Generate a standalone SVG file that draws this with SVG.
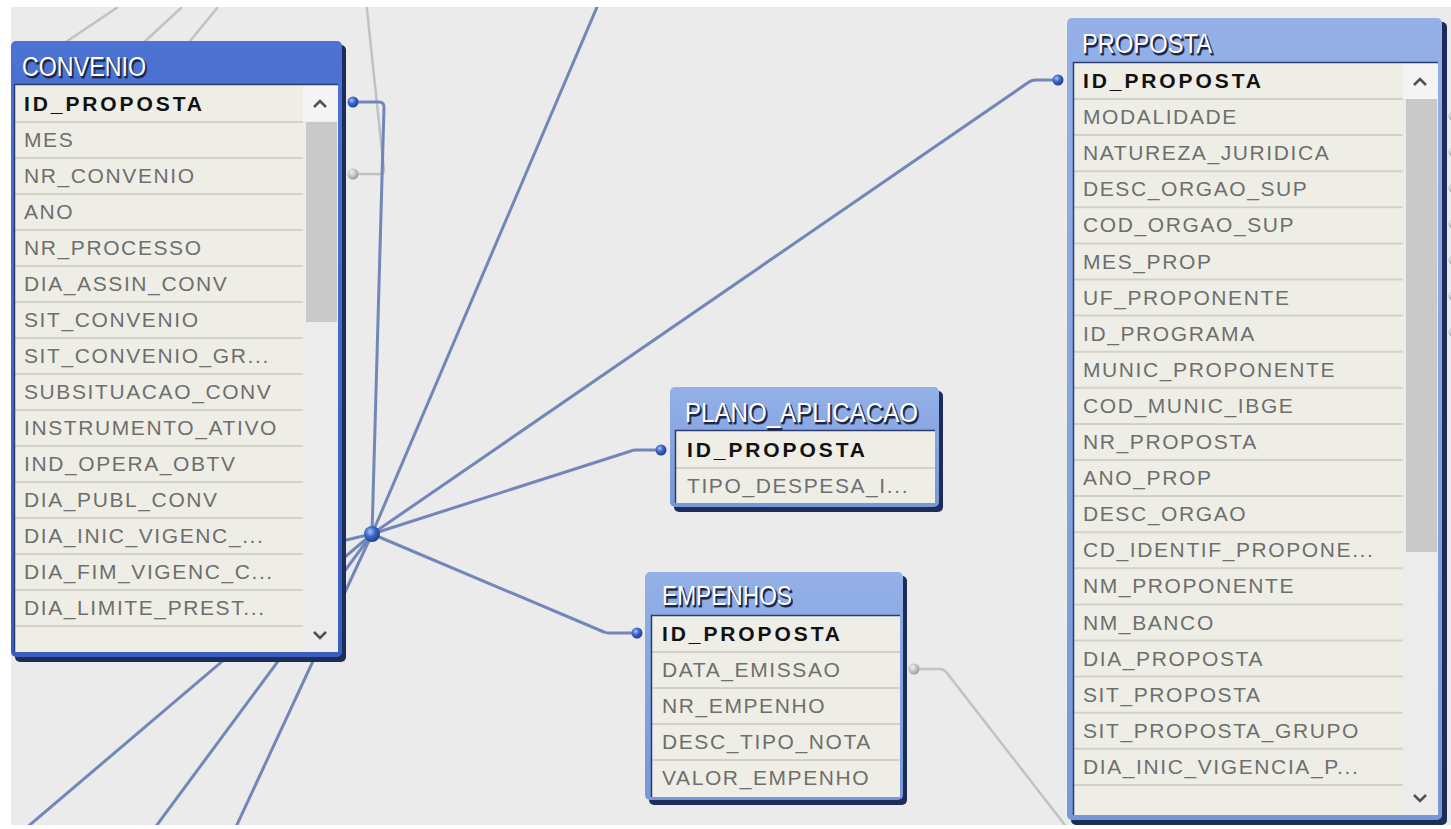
<svg xmlns="http://www.w3.org/2000/svg" width="1451" height="829" viewBox="0 0 1451 829">
<style>
.bg{fill:#ebebeb}
.shadow{fill:#1d2c58}
.body{fill:#efeee6}
.inner{fill:none;stroke:#2b3d70;stroke-width:1.5}
.sep{stroke:#d2d2ca;stroke-width:2}
.sb{fill:#ececec}
.sbtop{fill:#f4f4f4}
.thumb{fill:#c9c9c9}
.chev{fill:none;stroke:#505050;stroke-width:2.5}
.t{font-family:"Liberation Sans",Arial,sans-serif;font-size:21px;fill:#6e6e6e;letter-spacing:1.6px}
.k{font-weight:bold;fill:#111;letter-spacing:2.9px}
.title{font-family:"Liberation Sans",Arial,sans-serif;font-size:27px;fill:#ffffff}
.tsh{fill:#1c2648;stroke:#1c2648;stroke-width:1.2;stroke-opacity:0.8}
.blue{stroke:#6b81b6;stroke-width:3;fill:none;stroke-linejoin:round;stroke-opacity:0.95}
.gray{stroke:#c2c2c2;stroke-width:2.5;fill:none;stroke-linejoin:round}
</style>
<defs>
<linearGradient id="hSel" x1="0" y1="0" x2="0" y2="1"><stop offset="0" stop-color="#4d73d2"/><stop offset="1" stop-color="#3a5ec0"/></linearGradient>
<linearGradient id="hUn" x1="0" y1="0" x2="0" y2="1"><stop offset="0" stop-color="#94b0e7"/><stop offset="1" stop-color="#7797d6"/></linearGradient>
<radialGradient id="ballB" cx="0.38" cy="0.35" r="0.7"><stop offset="0" stop-color="#a9c1f5"/><stop offset="0.45" stop-color="#3d66c8"/><stop offset="1" stop-color="#1c3a88"/></radialGradient>
<radialGradient id="ballG" cx="0.38" cy="0.35" r="0.7"><stop offset="0" stop-color="#f2f2f2"/><stop offset="0.5" stop-color="#c4c4c4"/><stop offset="1" stop-color="#959595"/></radialGradient>
<clipPath id="canvas"><rect x="11" y="7" width="1440" height="818"/></clipPath>
</defs>
<rect x="0" y="0" width="1451" height="829" fill="#ffffff"/>
<rect class="bg" x="11" y="7" width="1440" height="818"/>

<g id="connectors" clip-path="url(#canvas)">
<path class="gray" d="M118,7 L60,46"/>
<path class="gray" d="M182,7 L140,46"/>
<path class="gray" d="M218,7 L186,46"/>
<path class="gray" d="M353,174 H380 Q384,174 384,170 L366,0"/>
<path class="gray" d="M914,669 H940 Q944,669 947,673 L1068,829"/>
<path class="blue" d="M353,102 H379 Q384,102 384,107 L372,534"/>
<path class="blue" d="M372,534 L600,0"/>
<path class="blue" d="M372,534 L1029,82 Q1032,80 1036,80 H1058"/>
<path class="blue" d="M372,534 L631,451 Q633,450 636,450 H661"/>
<path class="blue" d="M372,534 L604,632 Q606,633 609,633 H637"/>
<path class="blue" d="M372,534 L25,829"/>
<path class="blue" d="M372,534 L154,829"/>
<path class="blue" d="M372,534 L235,829"/>
<path class="blue" d="M372,534 L0,620"/>
<g fill="url(#ballG)">
<circle cx="1453" cy="116" r="4.5"/><circle cx="1453" cy="152" r="4.5"/><circle cx="1453" cy="188" r="4.5"/><circle cx="1453" cy="224" r="4.5"/><circle cx="1453" cy="260" r="4.5"/><circle cx="1453" cy="296" r="4.5"/><circle cx="1453" cy="332" r="4.5"/>
</g>
</g>

<g id="CONVENIO">
<rect class="shadow" x="15" y="45" width="331" height="617" rx="5"/>
<rect x="11" y="41" width="331" height="616" rx="5" fill="url(#hSel)"/>
<rect class="body" x="14" y="84" width="324" height="568"/>
<rect class="sb" x="303" y="84" width="35" height="568"/>
<rect class="sbtop" x="303" y="84" width="35" height="37"/>
<rect class="thumb" x="306" y="122" width="31" height="200"/>
<path class="chev" d="M314,107 l6,-6 l6,6"/>
<path class="chev" d="M314,632 l6,6 l6,-6"/>
<g>
<line class="sep" x1="14" x2="303" y1="122" y2="122"/><line class="sep" x1="14" x2="303" y1="158" y2="158"/><line class="sep" x1="14" x2="303" y1="194" y2="194"/><line class="sep" x1="14" x2="303" y1="230" y2="230"/><line class="sep" x1="14" x2="303" y1="266" y2="266"/><line class="sep" x1="14" x2="303" y1="302" y2="302"/><line class="sep" x1="14" x2="303" y1="338" y2="338"/><line class="sep" x1="14" x2="303" y1="374" y2="374"/><line class="sep" x1="14" x2="303" y1="410" y2="410"/><line class="sep" x1="14" x2="303" y1="446" y2="446"/><line class="sep" x1="14" x2="303" y1="482" y2="482"/><line class="sep" x1="14" x2="303" y1="518" y2="518"/><line class="sep" x1="14" x2="303" y1="554" y2="554"/><line class="sep" x1="14" x2="303" y1="590" y2="590"/><line class="sep" x1="14" x2="303" y1="626" y2="626"/>
</g>
<path class="inner" d="M14.5,652 V84.5 H338"/>
<text class="title tsh" x="23.5" y="77.5" textLength="124" lengthAdjust="spacingAndGlyphs">CONVENIO</text>
<text class="title" x="22" y="76" textLength="124" lengthAdjust="spacingAndGlyphs">CONVENIO</text>
<text class="t k" x="24" y="111">ID_PROPOSTA</text>
<text class="t" x="24" y="147">MES</text>
<text class="t" x="24" y="183">NR_CONVENIO</text>
<text class="t" x="24" y="219">ANO</text>
<text class="t" x="24" y="255">NR_PROCESSO</text>
<text class="t" x="24" y="291">DIA_ASSIN_CONV</text>
<text class="t" x="24" y="327">SIT_CONVENIO</text>
<text class="t" x="24" y="363">SIT_CONVENIO_GR...</text>
<text class="t" x="24" y="399">SUBSITUACAO_CONV</text>
<text class="t" x="24" y="435">INSTRUMENTO_ATIVO</text>
<text class="t" x="24" y="471">IND_OPERA_OBTV</text>
<text class="t" x="24" y="507">DIA_PUBL_CONV</text>
<text class="t" x="24" y="543">DIA_INIC_VIGENC_...</text>
<text class="t" x="24" y="579">DIA_FIM_VIGENC_C...</text>
<text class="t" x="24" y="615">DIA_LIMITE_PREST...</text>
</g>

<g id="PLANO_APLICACAO">
<rect class="shadow" x="674" y="391" width="269" height="121" rx="5"/>
<rect x="670" y="387" width="269" height="120" rx="5" fill="url(#hUn)"/>
<rect class="body" x="675" y="430" width="260" height="73"/>
<line class="sep" x1="675" x2="935" y1="468" y2="468"/>
<path class="inner" d="M675.5,503 V430.5 H935"/>
<text class="title tsh" x="686.5" y="423.5" textLength="233" lengthAdjust="spacingAndGlyphs">PLANO_APLICACAO</text>
<text class="title" x="685" y="422" textLength="233" lengthAdjust="spacingAndGlyphs">PLANO_APLICACAO</text>
<text class="t k" x="687" y="457">ID_PROPOSTA</text>
<text class="t" x="687" y="493">TIPO_DESPESA_I...</text>
</g>

<g id="EMPENHOS">
<rect class="shadow" x="649" y="576" width="258" height="229" rx="5"/>
<rect x="645" y="572" width="258" height="228" rx="5" fill="url(#hUn)"/>
<rect class="body" x="651" y="615" width="249" height="182"/>
<line class="sep" x1="651" x2="900" y1="652" y2="652"/><line class="sep" x1="651" x2="900" y1="688" y2="688"/><line class="sep" x1="651" x2="900" y1="724" y2="724"/><line class="sep" x1="651" x2="900" y1="760" y2="760"/>
<path class="inner" d="M651.5,797 V615.5 H900"/>
<text class="title tsh" x="663.5" y="606.5" textLength="130" lengthAdjust="spacingAndGlyphs">EMPENHOS</text>
<text class="title" x="662" y="605" textLength="130" lengthAdjust="spacingAndGlyphs">EMPENHOS</text>
<text class="t k" x="662" y="641">ID_PROPOSTA</text>
<text class="t" x="662" y="677">DATA_EMISSAO</text>
<text class="t" x="662" y="713">NR_EMPENHO</text>
<text class="t" x="662" y="749">DESC_TIPO_NOTA</text>
<text class="t" x="662" y="785">VALOR_EMPENHO</text>
</g>

<g id="PROPOSTA">
<rect class="shadow" x="1071" y="22" width="376" height="803" rx="5"/>
<rect x="1067" y="18" width="375" height="802" rx="5" fill="url(#hUn)"/>
<rect class="body" x="1073" y="62" width="365" height="753"/>
<rect class="sb" x="1403" y="62" width="35" height="753"/>
<rect class="sbtop" x="1403" y="62" width="35" height="37"/>
<rect class="thumb" x="1406" y="99" width="31" height="453"/>
<path class="chev" d="M1414,85 l6,-6 l6,6"/>
<path class="chev" d="M1414,795 l6,6 l6,-6"/>
<g>
<line class="sep" x1="1073" x2="1403" y1="99" y2="99"/><line class="sep" x1="1073" x2="1403" y1="135.1" y2="135.1"/><line class="sep" x1="1073" x2="1403" y1="171.2" y2="171.2"/><line class="sep" x1="1073" x2="1403" y1="207.3" y2="207.3"/><line class="sep" x1="1073" x2="1403" y1="243.4" y2="243.4"/><line class="sep" x1="1073" x2="1403" y1="279.5" y2="279.5"/><line class="sep" x1="1073" x2="1403" y1="315.6" y2="315.6"/><line class="sep" x1="1073" x2="1403" y1="351.7" y2="351.7"/><line class="sep" x1="1073" x2="1403" y1="387.8" y2="387.8"/><line class="sep" x1="1073" x2="1403" y1="423.9" y2="423.9"/><line class="sep" x1="1073" x2="1403" y1="460" y2="460"/><line class="sep" x1="1073" x2="1403" y1="496.1" y2="496.1"/><line class="sep" x1="1073" x2="1403" y1="532.2" y2="532.2"/><line class="sep" x1="1073" x2="1403" y1="568.3" y2="568.3"/><line class="sep" x1="1073" x2="1403" y1="604.4" y2="604.4"/><line class="sep" x1="1073" x2="1403" y1="640.5" y2="640.5"/><line class="sep" x1="1073" x2="1403" y1="676.6" y2="676.6"/><line class="sep" x1="1073" x2="1403" y1="712.7" y2="712.7"/><line class="sep" x1="1073" x2="1403" y1="748.8" y2="748.8"/><line class="sep" x1="1073" x2="1403" y1="784.9" y2="784.9"/>
</g>
<path class="inner" d="M1073.5,815 V62.5 H1438"/>
<text class="title tsh" x="1083.5" y="54.5" textLength="130" lengthAdjust="spacingAndGlyphs">PROPOSTA</text>
<text class="title" x="1082" y="53" textLength="130" lengthAdjust="spacingAndGlyphs">PROPOSTA</text>
<text class="t k" x="1083" y="88">ID_PROPOSTA</text>
<text class="t" x="1083" y="124.1">MODALIDADE</text>
<text class="t" x="1083" y="160.2">NATUREZA_JURIDICA</text>
<text class="t" x="1083" y="196.3">DESC_ORGAO_SUP</text>
<text class="t" x="1083" y="232.4">COD_ORGAO_SUP</text>
<text class="t" x="1083" y="268.5">MES_PROP</text>
<text class="t" x="1083" y="304.6">UF_PROPONENTE</text>
<text class="t" x="1083" y="340.7">ID_PROGRAMA</text>
<text class="t" x="1083" y="376.8">MUNIC_PROPONENTE</text>
<text class="t" x="1083" y="412.9">COD_MUNIC_IBGE</text>
<text class="t" x="1083" y="449">NR_PROPOSTA</text>
<text class="t" x="1083" y="485.1">ANO_PROP</text>
<text class="t" x="1083" y="521.2">DESC_ORGAO</text>
<text class="t" x="1083" y="557.3">CD_IDENTIF_PROPONE...</text>
<text class="t" x="1083" y="593.4">NM_PROPONENTE</text>
<text class="t" x="1083" y="629.5">NM_BANCO</text>
<text class="t" x="1083" y="665.6">DIA_PROPOSTA</text>
<text class="t" x="1083" y="701.7">SIT_PROPOSTA</text>
<text class="t" x="1083" y="737.8">SIT_PROPOSTA_GRUPO</text>
<text class="t" x="1083" y="773.9">DIA_INIC_VIGENCIA_P...</text>
</g>

<g id="endpoints">
<circle cx="353" cy="102" r="5.5" fill="url(#ballB)"/>
<circle cx="353" cy="174" r="5.5" fill="url(#ballG)"/>
<circle cx="1058" cy="80" r="5.5" fill="url(#ballB)"/>
<circle cx="661" cy="450" r="5.5" fill="url(#ballB)"/>
<circle cx="637" cy="633" r="5.5" fill="url(#ballB)"/>
<circle cx="914" cy="669" r="5.5" fill="url(#ballG)"/>
<circle cx="372" cy="534" r="8" fill="url(#ballB)"/>
</g>
</svg>
